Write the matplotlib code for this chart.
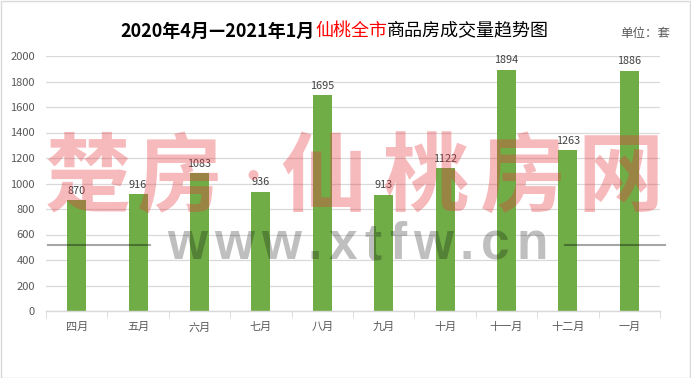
import matplotlib
matplotlib.use("Agg")
import matplotlib.pyplot as plt
from matplotlib.lines import Line2D
from matplotlib.patches import Rectangle
import numpy as np

months = ["四月", "五月", "六月", "七月", "八月", "九月", "十月", "十一月", "十二月", "一月"]
deals = [870, 916, 1083, 936, 1695, 913, 1122, 1894, 1263, 1886]
yticks = [0, 200, 400, 600, 800, 1000, 1200, 1400, 1600, 1800, 2000]

plt.rcParams['font.family'] = ['Noto Sans CJK SC', 'DejaVu Sans']

W, H = 691, 378
fig = plt.figure(figsize=(W / 100, H / 100), dpi=100)
ax = fig.add_axes([46 / W, (H - 311) / H, (660 - 46) / W, (311 - 56) / H])

x = np.arange(len(months))
bars = ax.bar(x, deals, width=0.31, color="#70AD47", zorder=2)
for xi, v in zip(x, deals):
    ax.annotate(str(v), (xi, v), xytext=(0, 3), textcoords="offset points",
                ha="center", va="bottom", fontsize=7.8, color="#404040")

ax.set_xlim(-0.5, len(months) - 0.5)
ax.set_ylim(0, 2000)
ax.set_yticks(yticks)
ax.set_yticklabels([str(t) for t in yticks], fontsize=8, color="#595959")
ax.set_xticks(x)
ax.set_xticklabels(months, fontsize=8, color="#595959")
ax.set_xticks(np.arange(len(months) + 1) - 0.5, minor=True)
ax.tick_params(axis="x", which="major", length=0, pad=8)
ax.tick_params(axis="x", which="minor", length=5, color="#D9D9D9")
ax.tick_params(axis="y", length=0, pad=8)
ax.grid(axis="y", color="#D9D9D9", linewidth=0.9, zorder=0)
ax.set_axisbelow(True)
for s in ["left", "right", "top"]:
    ax.spines[s].set_visible(False)
ax.spines["bottom"].set_color("#D9D9D9")
ax.spines["bottom"].set_linewidth(1.0)

# chart border
fig.patches.append(Rectangle((0.5 / W, 0.5 / H), 1 - 1.5 / W, 1 - 1.5 / H, transform=fig.transFigure,
                             fill=False, edgecolor="#D9D9D9", linewidth=1))

renderer = fig.canvas.get_renderer()

# title in three parts
parts = [("2020年4月—2021年1月", "black", "bold"),
         ("仙桃全市", "#FF0000", "normal"),
         ("商品房成交量趋势图", "black", "normal")]
texts = []
for s, c, w in parts:
    t = fig.text(0, 1 - 31 / H, s, color=c, fontweight=w, fontsize=13, va="center", ha="left")
    texts.append(t)
widths = [t.get_window_extent(renderer).width for t in texts]
xpos = 335 - sum(widths) / 2
for t, wd in zip(texts, widths):
    t.set_x(xpos / W)
    xpos += wd

fig.text(670 / W, 1 - 34 / H, "单位：套", fontsize=9, color="#595959", ha="right", va="center")

# watermark
wm_chars = ["楚", "房", "·", "仙", "桃", "房", "网"]
wm_x = [88, 180, 253, 323, 425, 523, 620]
for ch, cx in zip(wm_chars, wm_x):
    fs = 28 if ch == "·" else 62
    fig.text(cx / W, 1 - 179 / H, ch, fontsize=fs, fontweight="bold", color="#E8393F",
             alpha=0.35, ha="center", va="center")

url = "www.xtfw.cn"
ut = []
for ch in url:
    t = fig.text(0, 1 - 259 / H, ch, fontsize=37, fontweight="bold", family="Liberation Sans",
                 color="black", alpha=0.25, ha="left", va="baseline")
    ut.append(t)
uw = [t.get_window_extent(renderer).width for t in ut]
gap = (548 - 167 - sum(uw)) / (len(url) - 1)
xpos = 167
for t, wd in zip(ut, uw):
    t.set_x(xpos / W)
    xpos += wd + gap

for x0, x1 in [(48, 150), (565, 665)]:
    fig.add_artist(Line2D([x0 / W, x1 / W], [1 - 245 / H, 1 - 245 / H], transform=fig.transFigure,
                          color="black", alpha=0.35, linewidth=1.5))

fig.savefig("out.png", dpi=100)
